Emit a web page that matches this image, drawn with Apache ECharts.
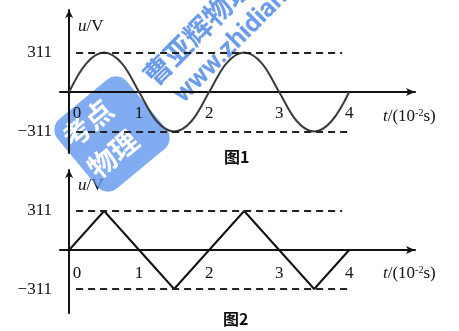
<!DOCTYPE html>
<html>
<head>
    <meta charset="utf-8"/>
    <title>图1 图2</title>
    <script src="https://cdn.jsdelivr.net/npm/echarts@6/dist/echarts.min.js"></script>
    <style>
        html, body { margin: 0; padding: 0; background: #fff; }
    </style>
</head>
<body>
<div id="main" style="width: 459px;height:331px;"></div>
<script type="text/javascript">
    // 数据（读图所得）
    var peak = 311;
    var tTicks = [0, 1, 2, 3, 4];
    var uTicks = [-311, 311];
    // 图1：正弦交流电，每 0.25 取一个点
    var sineT = [0, 0.25, 0.5, 0.75, 1, 1.25, 1.5, 1.75, 2, 2.25, 2.5, 2.75, 3, 3.25, 3.5, 3.75, 4];
    var sineU = [0, 228, 311, 228, 0, -228, -311, -228, 0, 228, 311, 228, 0, -228, -311, -228, 0];
    // 图2：三角波拐点
    var triT = [0, 0.5, 1.5, 2.5, 3.5, 4];
    var triU = [0, 311, -311, 311, -311, 0];
    // 虚线范围
    var dashT = [0.1, 3.9];

    var serif = '"Liberation Serif", "DejaVu Serif", serif';

    function pairs(xs, ys) {
        var out = [];
        for (var i = 0; i < xs.length; i++) out.push([xs[i], ys[i]]);
        return out;
    }

    // x 轴放在 grid 底部，再用 offset 提到 u=0 处
    function xAxisOf(idx, lift, margin) {
        return {
            type: 'value', gridIndex: idx, min: -0.13, max: 4.94, offset: -lift,
            axisLine: { show: true, onZero: false, symbol: ['none', 'arrow'], symbolSize: [6, 9],
                lineStyle: { color: '#111', width: 2 } },
            axisTick: { show: false },
            splitLine: { show: false },
            axisLabel: {
                customValues: tTicks, margin: margin,
                fontFamily: serif, fontSize: 17, color: '#111',
                formatter: function (v) { return v === 0 ? '{z|0}' : String(v); },
                rich: { z: { fontFamily: serif, fontSize: 17, color: '#111', padding: [0, 0, 0, 16] } }
            }
        };
    }

    function yAxisOf(idx, min, max) {
        return {
            type: 'value', gridIndex: idx, min: min, max: max,
            axisLine: { show: true, onZero: true, symbol: ['none', 'arrow'], symbolSize: [6, 8],
                lineStyle: { color: '#111', width: 2 } },
            axisTick: { show: false },
            splitLine: { show: false },
            axisLabel: {
                customValues: uTicks, margin: 8,
                fontFamily: serif, fontSize: 17, color: '#111',
                formatter: function (v) { return v < 0 ? '\u2212' + (-v) : String(v); }
            }
        };
    }

    function dashLines() {
        return {
            silent: true, symbol: 'none',
            lineStyle: { color: '#222', width: 1.8, type: [7, 5] },
            label: { show: false },
            data: [
                [{ coord: [dashT[0], peak] }, { coord: [dashT[1], peak] }],
                [{ coord: [dashT[0], -peak] }, { coord: [dashT[1] + 0.12, -peak] }]
            ]
        };
    }

    var wmBlue = 'rgba(70, 130, 230, 0.8)';

    var myChart = echarts.init(document.getElementById('main'), null, { renderer: 'canvas' });
    var option = {
        animation: false,
        backgroundColor: '#fff',
        grid: [
            { left: 60, top: 10, width: 355, height: 143 },
            { left: 60, top: 170, width: 355, height: 143 }
        ],
        xAxis: [xAxisOf(0, 61, 13), xAxisOf(1, 63, 15)],
        yAxis: [yAxisOf(0, -480, 646), yAxisOf(1, -502, 638)],
        series: [
            {
                type: 'line', xAxisIndex: 0, yAxisIndex: 0, smooth: 0.35, showSymbol: false,
                lineStyle: { color: '#3a3a3a', width: 2 },
                data: pairs(sineT, sineU),
                markLine: dashLines()
            },
            {
                type: 'line', xAxisIndex: 1, yAxisIndex: 1, showSymbol: false,
                lineStyle: { color: '#111', width: 2 },
                data: pairs(triT, triU),
                markLine: dashLines()
            }
        ],
        graphic: [
            { type: 'text', left: 78, top: 18, style: { text: '{i|u}/V', rich: {
                i: { fontFamily: serif, fontStyle: 'italic', fontSize: 17, fill: '#111' } },
                fontFamily: serif, fontSize: 17, fill: '#111' } },
            { type: 'text', left: 78, top: 177, style: { text: '{i|u}/V', rich: {
                i: { fontFamily: serif, fontStyle: 'italic', fontSize: 17, fill: '#111' } },
                fontFamily: serif, fontSize: 17, fill: '#111' } },
            { type: 'text', left: 383, top: 108, style: { text: '{i|t}/(10{s|-2}s)', rich: {
                i: { fontFamily: serif, fontStyle: 'italic', fontSize: 17, fill: '#111' },
                s: { fontFamily: serif, fontSize: 10, fill: '#111', verticalAlign: 'top', padding: [0, 0, 8, 0] } },
                fontFamily: serif, fontSize: 17, fill: '#111' } },
            { type: 'text', left: 383, top: 265, style: { text: '{i|t}/(10{s|-2}s)', rich: {
                i: { fontFamily: serif, fontStyle: 'italic', fontSize: 17, fill: '#111' },
                s: { fontFamily: serif, fontSize: 10, fill: '#111', verticalAlign: 'top', padding: [0, 0, 8, 0] } },
                fontFamily: serif, fontSize: 17, fill: '#111' } },
            { type: 'text', left: 224, top: 149, style: { text: '图1', fontFamily: '"Noto Sans CJK SC"',
                fontWeight: 'bold', fontSize: 16, fill: '#111' } },
            { type: 'text', left: 223, top: 311, style: { text: '图2', fontFamily: '"Noto Sans CJK SC"',
                fontWeight: 'bold', fontSize: 16, fill: '#111' } },
            // 水印
            { type: 'group', x: 112, y: 134, rotation: Math.PI * 0.22, children: [
                { type: 'rect', shape: { x: -45, y: -45, width: 90, height: 90, r: 14 },
                  style: { fill: 'rgba(80, 140, 235, 0.72)' } },
                { type: 'text', x: -40, y: -38, style: { text: '考点', fontFamily: '"Noto Sans CJK SC"',
                    fontWeight: 'bold', fontSize: 28, fill: '#fff' } },
                { type: 'text', x: -40, y: 2, style: { text: '物理', fontFamily: '"Noto Sans CJK SC"',
                    fontWeight: 'bold', fontSize: 28, fill: '#fff' } }
            ] },
            { type: 'text', x: 158, y: 90, rotation: Math.PI / 4, style: { text: '曹亚辉物理',
                fontFamily: '"Noto Sans CJK SC"', fontWeight: 'bold', fontSize: 28, fill: wmBlue,
                verticalAlign: 'bottom' } },
            { type: 'text', x: 188, y: 108, rotation: Math.PI / 4, style: { text: 'www.zhidian',
                fontFamily: 'Roboto, sans-serif', fontWeight: 'bold', fontSize: 26, fill: wmBlue,
                verticalAlign: 'bottom' } }
        ]
    };
    myChart.setOption(option);
</script>
</body>
</html>
